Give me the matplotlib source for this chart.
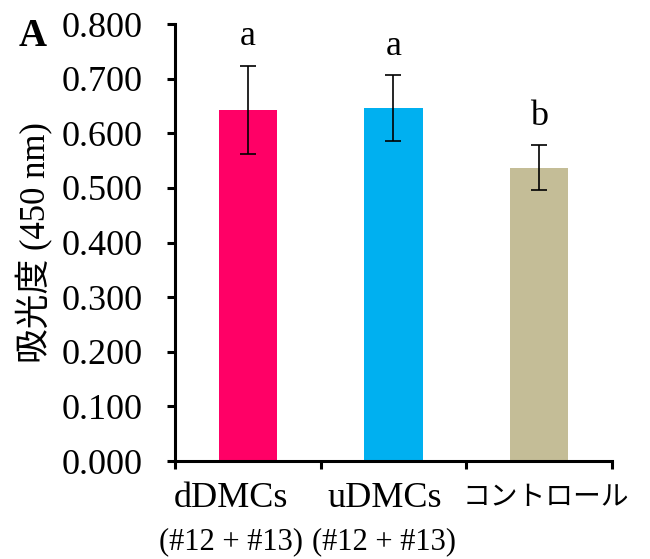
import matplotlib
matplotlib.use("Agg")
import matplotlib.pyplot as plt

SERIF = 'Liberation Serif'
MIXED = ['Liberation Serif', 'Noto Sans CJK JP']
plt.rcParams['font.family'] = MIXED

groups = ["dDMCs", "uDMCs", "コントロール"]
sublabels = ["(#12 + #13)", "(#12 + #13)", ""]
means = [0.643, 0.646, 0.537]
errors = [0.081, 0.060, 0.041]
letters = ["a", "a", "b"]
colors = ["#FF0066", "#00B0F0", "#C4BD97"]

fig = plt.figure(figsize=(6.5, 5.59), dpi=100)
ax = fig.add_axes([0.269, 0.1753, 0.6725, 0.7817])

x = list(range(len(groups)))
ax.bar(x, means, width=0.40, color=colors, zorder=2)
ax.errorbar(x, means, yerr=errors, fmt='none', ecolor='black',
            elinewidth=1.2, capsize=6, capthick=1.2, zorder=3)

for i, (m, e, t) in enumerate(zip(means, errors, letters)):
    ax.annotate(t, xy=(i, m + e), xytext=(0, 9), textcoords='offset points',
                ha='center', va='bottom', fontsize=26, family=SERIF)

ax.set_xlim(-0.5, 2.5)
ax.set_ylim(0, 0.8)
ax.set_yticks([i / 10 for i in range(9)])
ax.set_yticklabels([f"{i / 10:.3f}" for i in range(9)], fontsize=26, family=SERIF)
ax.set_xticks([-0.5, 0.5, 1.5, 2.5])
ax.set_xticklabels([])

for s in ['top', 'right']:
    ax.spines[s].set_visible(False)
for s in ['left', 'bottom']:
    ax.spines[s].set_linewidth(2.2)
ax.tick_params(axis='both', direction='out', length=6, width=2.2)
ax.tick_params(axis='y', pad=17)

# the category labels sit a little off the bar centres in the original
shifts = [-12, -6.5, 5]
for i, (g, sl) in enumerate(zip(groups, sublabels)):
    is_jp = not g.isascii()
    ax.annotate(g, xy=(i, 0), xycoords=('data', 'axes fraction'),
                xytext=(shifts[i], -27), textcoords='offset points',
                ha='center', va='center', fontsize=20 if is_jp else 26,
                family=MIXED)
    if sl:
        ax.annotate(sl, xy=(i, 0), xycoords=('data', 'axes fraction'),
                    xytext=(shifts[i], -58), textcoords='offset points',
                    ha='center', va='center', fontsize=22, family=SERIF)

ax.set_ylabel("吸光度 (450 nm)", fontsize=25, labelpad=6, family=MIXED)
fig.text(0.028, 0.935, "A", fontsize=28, fontweight='bold', va='center',
         family=SERIF)

fig.savefig("out.png", dpi=100)
